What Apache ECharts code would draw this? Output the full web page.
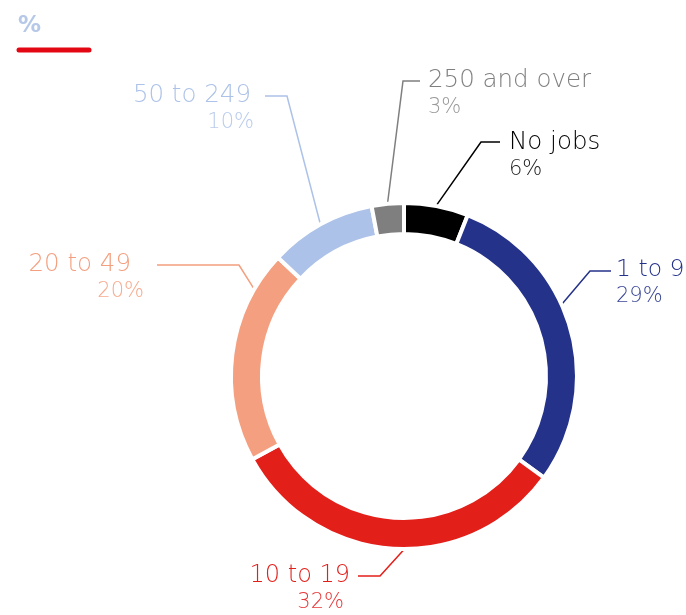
<!DOCTYPE html>
<html>
<head>
<meta charset="utf-8">
<script src="https://cdn.jsdelivr.net/npm/echarts@6/dist/echarts.min.js"></script>
<style>
  html, body { margin: 0; padding: 0; background: #fff; }
  #chart { width: 686px; height: 615px; }
</style>
</head>
<body>
<div id="chart"></div>
<script>
// Share of businesses by number of jobs (%)
const categories = ['No jobs', '1 to 9', '10 to 19', '20 to 49', '50 to 249', '250 and over'];
const shares = [6, 29, 32, 20, 10, 3];
const sliceColors = ['#000000', '#24328a', '#e31f1a', '#f49f7f', '#adc2e8', '#7f7f7f'];
const pctColors = ['#222222', '#3a4796', '#e6393a', '#f6ab8f', '#b9cbec', '#9a9a9a'];

// Ring geometry
const CX = 404, CY = 376, R_IN = 142, R_OUT = 173, GAP = 4;

// Leader-line layout per label: where on the slice the line leaves (fraction of the slice),
// the elbow, the line end, the text anchor and the name size.
const labelLayouts = [
  { frac: 0.50, elbow: [481, 142], end: [500, 142], tx: 509, ty: 128, align: 'left', size: 24.5 },
  { frac: 0.42, elbow: [590, 271], end: [611, 271], tx: 616, ty: 255, align: 'left', size: 23.5 },
  { frac: 0.47, elbow: [380, 576], end: [358, 576], tx: 350, ty: 561, align: 'right', size: 24 },
  { frac: 0.82, elbow: [239, 265], end: [157, 265], tx: 144, ty: 250, align: 'right', nPad: 13, size: 24.5 },
  { frac: 0.50, elbow: [287, 96],  end: [265, 96],  tx: 254, ty: 81,  align: 'right', nPad: 3, size: 24.5 },
  { frac: 0.50, elbow: [403, 81],  end: [420, 81],  tx: 428, ty: 66,  align: 'left', size: 24.5 }
];

const total = shares.reduce((a, b) => a + b, 0);
const cumulative = shares.map((v, i) => shares.slice(0, i).reduce((a, b) => a + b, 0));

function anchorPoint(i) {
  const lay = labelLayouts[i];
  const theta = (cumulative[i] + lay.frac * shares[i]) / total * 2 * Math.PI;
  const r = R_OUT + 1;
  return [CX + r * Math.sin(theta), CY - r * Math.cos(theta)];
}

const FONT = '"DejaVu Sans", "Noto Sans", sans-serif';

const pieData = categories.map((name, i) => {
  const lay = labelLayouts[i];
  const pctPad = (i === 2) ? [0, 6, 0, 0] : 0;
  return {
    name: name,
    value: shares[i],
    itemStyle: { color: sliceColors[i] },
    label: {
      formatter: '{n|' + name + '}\n{p|' + shares[i] + '%}',
      rich: {
        n: { fontFamily: FONT, fontSize: lay.size, fontWeight: 200, color: sliceColors[i],
             lineHeight: 29, padding: [0, lay.nPad || 0, 0, 0] },
        p: { fontFamily: FONT, fontSize: 21, fontWeight: 200, color: pctColors[i], lineHeight: 26, padding: pctPad }
      }
    },
    labelLine: { lineStyle: { color: sliceColors[i] } }
  };
});

const chart = echarts.init(document.getElementById('chart'), null, { renderer: 'canvas' });

chart.setOption({
  animation: false,
  backgroundColor: '#ffffff',
  title: {
    text: '%',
    left: 13,
    top: 10,
    textStyle: { fontFamily: FONT, fontSize: 23, fontWeight: 'bold', color: '#b6c8e8' }
  },
  graphic: [{
    type: 'line',
    shape: { x1: 19, y1: 50, x2: 89, y2: 50 },
    style: { stroke: '#e30613', lineWidth: 5, lineCap: 'round' }
  }],
  series: [{
    type: 'pie',
    center: [CX, CY],
    radius: [R_IN, R_OUT],
    startAngle: 90,
    clockwise: true,
    avoidLabelOverlap: false,
    itemStyle: { borderColor: '#ffffff', borderWidth: GAP },
    label: { show: true, position: 'outside' },
    labelLine: { show: true, lineStyle: { width: 1.5 } },
    emphasis: { disabled: true },
    labelLayout: function (params) {
      const i = params.dataIndex;
      const lay = labelLayouts[i];
      return {
        x: lay.tx,
        y: lay.ty,
        align: lay.align,
        verticalAlign: 'top',
        labelLinePoints: [anchorPoint(i), lay.elbow, lay.end]
      };
    },
    data: pieData
  }]
});
</script>
</body>
</html>
